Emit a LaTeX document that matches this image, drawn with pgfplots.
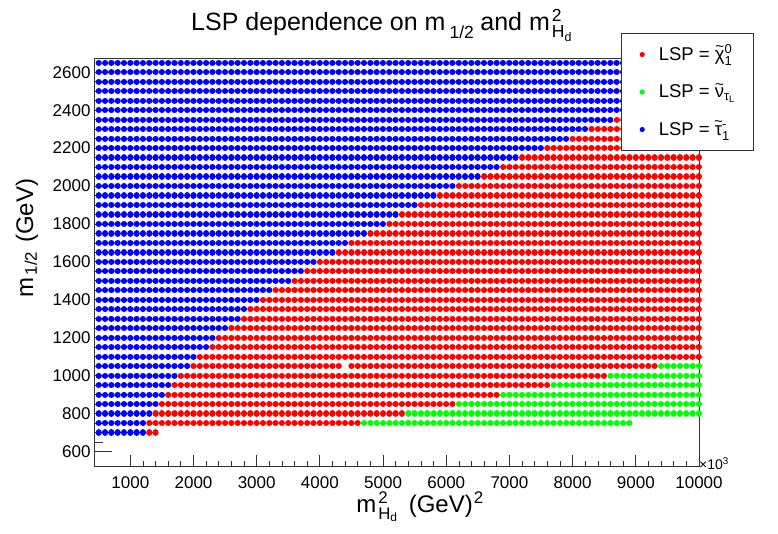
\documentclass[border=0pt]{standalone}
\usepackage{pgfplots}
\pgfplotsset{compat=1.18}
\usepackage{amsmath}
\usepackage{fontspec}
\setmainfont{Liberation Sans}

\definecolor{rootred}{rgb}{1,0,0}
\definecolor{rootgreen}{rgb}{0,1,0}
\definecolor{rootblue}{rgb}{0,0,1}

% ROOT-like tilde over a letter
\newcommand\rt[1]{\ooalign{#1\cr\hidewidth\raisebox{0.46em}{\fontsize{15pt}{15pt}\selectfont\textasciitilde}\hidewidth\cr}}

\pgfplotsset{
  dotrow/.style={line width=6.2pt, line cap=round,
    dash pattern=on 0.01pt off 6.3055pt, dash phase=0pt,
    mark=none, unbounded coords=jump,
    legend image code/.code={\fill[draw=none, solid] (0pt,0pt) circle (2.6pt);}},
  rootframe/.style={
    at={(94pt,67.3pt)}, anchor=south west,
    scale only axis, width=605pt, height=407.7pt,
    xmin=425, xmax=10000, ymin=520, ymax=2670,
    tick align=inside,
    axis line style={line width=1pt, black!80},
    tick style={line width=0.8pt, black!80},
    scaled ticks=false,
    /pgf/number format/1000 sep={},
    /pgf/number format/assume math mode=true,
  },
}

\begin{document}
\begin{tikzpicture}
\path[use as bounding box] (0pt,0pt) rectangle (778pt,534pt);

% axis that carries the x ticks
\begin{axis}[rootframe,
  hide y axis,
  xtick={1000,2000,...,10000}, minor x tick num=4, xtick pos=bottom,
  major tick length=12pt, minor tick length=6pt,
  xticklabel style={font=\fontsize{17pt}{17pt}\selectfont, yshift=-6pt},
]
\addplot[draw=none] coordinates {(500,700)};
\end{axis}

% main axis with the data, y ticks and legend
\begin{axis}[rootframe, clip=false,
  xtick=\empty,
  ytick={600,800,...,2600}, minor y tick num=3, ytick pos=left,
  major tick length=18pt, minor tick length=9pt,
  yticklabel style={font=\fontsize{17pt}{17pt}\selectfont},
  legend cell align=left,
  legend style={at={(0.8706,1.063)}, anchor=north west,
    draw=black!80, line width=1pt, fill=white,
    inner xsep=18.4pt, inner ysep=2pt, column sep=14pt,
    font=\fontsize{18.5pt}{18.5pt}\selectfont,
    nodes={inner sep=0pt, text height=24.4pt, text depth=13.1pt}},
]
% LSP = neutralino
\addplot[rootred, dotrow] coordinates {
(1300,700) (1400,700) (nan,nan)
(1300,750) (4600,750) (nan,nan)
(1400,800) (5300,800) (nan,nan)
(1500,850) (6100,850) (nan,nan)
(1600,900) (6800,900) (nan,nan)
(1700,950) (7600,950) (nan,nan)
(1800,1000) (8500,1000) (nan,nan)
(2000,1050) (4300,1050) (nan,nan)
(4500,1050) (9300,1050) (nan,nan)
(2100,1100) (10000,1100) (nan,nan)
(2300,1150) (10000,1150) (nan,nan)
(2400,1200) (10000,1200) (nan,nan)
(2600,1250) (10000,1250) (nan,nan)
(2800,1300) (10000,1300) (nan,nan)
(2900,1350) (10000,1350) (nan,nan)
(3100,1400) (10000,1400) (nan,nan)
(3300,1450) (10000,1450) (nan,nan)
(3600,1500) (10000,1500) (nan,nan)
(3800,1550) (10000,1550) (nan,nan)
(4000,1600) (10000,1600) (nan,nan)
(4300,1650) (10000,1650) (nan,nan)
(4500,1700) (10000,1700) (nan,nan)
(4800,1750) (10000,1750) (nan,nan)
(5100,1800) (10000,1800) (nan,nan)
(5300,1850) (10000,1850) (nan,nan)
(5600,1900) (10000,1900) (nan,nan)
(5900,1950) (10000,1950) (nan,nan)
(6200,2000) (10000,2000) (nan,nan)
(6600,2050) (10000,2050) (nan,nan)
(6900,2100) (10000,2100) (nan,nan)
(7200,2150) (10000,2150) (nan,nan)
(7600,2200) (10000,2200) (nan,nan)
(8000,2250) (10000,2250) (nan,nan)
(8300,2300) (10000,2300) (nan,nan)
(8700,2350) (10000,2350) (nan,nan)
(9000,2400) (10000,2400) (nan,nan)
(9300,2450) (10000,2450) (nan,nan)
(9600,2500) (10000,2500) (nan,nan)
(9900,2550) (10000,2550)
};
\addlegendentry{LSP = \rt{χ}$^{\text{0}}_{\text{1}}$}
% LSP = sneutrino
\addplot[rootgreen, dotrow] coordinates {
(4700,750) (8900,750) (nan,nan)
(5400,800) (10000,800) (nan,nan)
(6200,850) (10000,850) (nan,nan)
(6900,900) (10000,900) (nan,nan)
(7700,950) (10000,950) (nan,nan)
(8600,1000) (10000,1000) (nan,nan)
(9400,1050) (10000,1050)
};
\addlegendentry{LSP = \rt{ν}$_{\text{τ}_{\text{L}}}$}
% LSP = stau
\addplot[rootblue, dotrow] coordinates {
(500,700) (1200,700) (nan,nan)
(500,750) (1200,750) (nan,nan)
(500,800) (1300,800) (nan,nan)
(500,850) (1400,850) (nan,nan)
(500,900) (1500,900) (nan,nan)
(500,950) (1600,950) (nan,nan)
(500,1000) (1700,1000) (nan,nan)
(500,1050) (1900,1050) (nan,nan)
(500,1100) (2000,1100) (nan,nan)
(500,1150) (2200,1150) (nan,nan)
(500,1200) (2300,1200) (nan,nan)
(500,1250) (2500,1250) (nan,nan)
(500,1300) (2700,1300) (nan,nan)
(500,1350) (2800,1350) (nan,nan)
(500,1400) (3000,1400) (nan,nan)
(500,1450) (3200,1450) (nan,nan)
(500,1500) (3500,1500) (nan,nan)
(500,1550) (3700,1550) (nan,nan)
(500,1600) (3900,1600) (nan,nan)
(500,1650) (4200,1650) (nan,nan)
(500,1700) (4400,1700) (nan,nan)
(500,1750) (4700,1750) (nan,nan)
(500,1800) (5000,1800) (nan,nan)
(500,1850) (5200,1850) (nan,nan)
(500,1900) (5500,1900) (nan,nan)
(500,1950) (5800,1950) (nan,nan)
(500,2000) (6100,2000) (nan,nan)
(500,2050) (6500,2050) (nan,nan)
(500,2100) (6800,2100) (nan,nan)
(500,2150) (7100,2150) (nan,nan)
(500,2200) (7500,2200) (nan,nan)
(500,2250) (7900,2250) (nan,nan)
(500,2300) (8200,2300) (nan,nan)
(500,2350) (8600,2350) (nan,nan)
(500,2400) (8900,2400) (nan,nan)
(500,2450) (9200,2450) (nan,nan)
(500,2500) (9500,2500) (nan,nan)
(500,2550) (9800,2550) (nan,nan)
(500,2600) (10000,2600) (nan,nan)
(500,2650) (10000,2650)
};
\addlegendentry{LSP = \rt{τ}$^{\text{-}}_{\text{1}}$}
\end{axis}

% titles
\node[anchor=base west, inner sep=0pt, font=\fontsize{25pt}{25pt}\selectfont]
  at (191pt,503pt) {LSP dependence on m\kern4pt\raisebox{-3pt}{$_{\text{1/2}}$}\kern6pt and m\kern2pt$^{\text{2}}_{\text{H}_{\text{d}}}$};
\node[rotate=90, anchor=center, inner sep=0pt, font=\fontsize{24pt}{24pt}\selectfont]
  at (27pt,296pt) {m\kern2pt$_{\text{1/2}}$\kern2pt\ (GeV)};
\node[anchor=center, inner sep=0pt, font=\fontsize{24pt}{24pt}\selectfont]
  at (420pt,27pt) {m\kern2pt$^{\text{2}}_{\text{H}_{\text{d}}}$\kern4pt\ (GeV)\kern1pt$^{\text{2}}$};
\node[anchor=west, inner sep=0pt, font=\fontsize{14pt}{14pt}\selectfont]
  at (699pt,70pt) {×10$^{\text{3}}$};
\end{tikzpicture}
\end{document}
